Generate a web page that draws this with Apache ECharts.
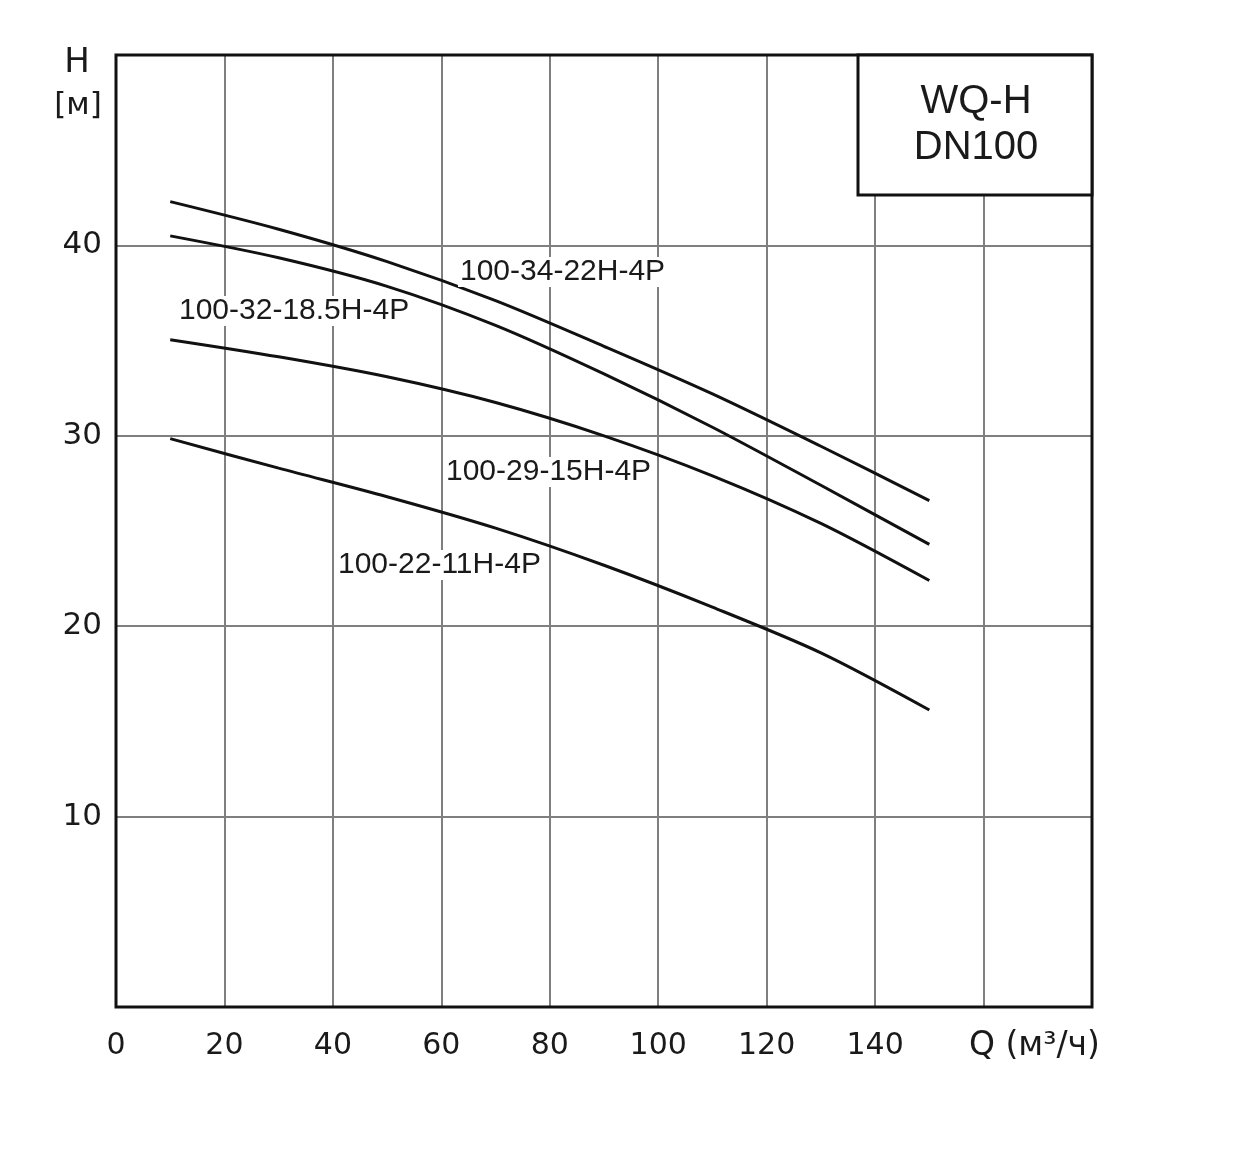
<!DOCTYPE html>
<html>
<head>
<meta charset="utf-8">
<script src="https://cdn.jsdelivr.net/npm/echarts@6/dist/echarts.min.js"></script>
<style>
  html, body { margin: 0; padding: 0; background: #fff; }
  #chart { width: 1240px; height: 1156px; }
</style>
</head>
<body>
<div id="chart"></div>
<script>
// pump curves WQ-H DN100, flow Q (m3/h) vs head H (m)
const flow = [10, 30, 50, 70, 90, 110, 130, 150];
const head34 = [42.3, 40.85, 39.15, 37.1, 34.7, 32.2, 29.45, 26.6];
const head32 = [40.5, 39.35, 37.85, 35.8, 33.25, 30.45, 27.4, 24.3];
const head29 = [35.05, 34.15, 33.1, 31.75, 30.0, 27.9, 25.4, 22.4];
const head22 = [29.85, 28.3, 26.8, 25.15, 23.2, 21.0, 18.6, 15.6];
const curveNames = ['100-34-22H-4P', '100-32-18.5H-4P', '100-29-15H-4P', '100-22-11H-4P'];
const xTicks = [0, 20, 40, 60, 80, 100, 120, 140];
const yTicks = [10, 20, 30, 40];

const lineColor = '#111'
const gridColor = '#7f7f7f'
const textColor = '#1a1a1a'
const tickFont = 'DejaVu Sans'
const curveFont = 'Liberation Sans'

function pairs(ys) {
    return flow.map((q, i) => [q, ys[i]])
}

function curve(name, ys) {
    return {
        name: name,
        type: 'line',
        data: pairs(ys),
        smooth: 0.3,
        symbol: 'none',
        lineStyle: { color: lineColor, width: 3 },
        z: 5
    }
}

function curveLabel(text, x, y) {
    return {
        type: 'text',
        x: x,
        y: y,
        z: 50,
        style: {
            text: text,
            font: '30px "' + curveFont + '"',
            fill: textColor,
            backgroundColor: '#fff',
            padding: [0, 2],
            verticalAlign: 'middle'
        }
    }
}

const chart = echarts.init(document.getElementById('chart'))
chart.setOption({
    animation: false,
    backgroundColor: '#fff',
    grid: {
        left: 116, top: 55, right: 148, bottom: 149,
        show: false,
        containLabel: false
    },
    xAxis: {
        type: 'value',
        min: 0,
        max: 180,
        interval: 20,
        axisLine: { show: false },
        axisTick: { show: false },
        axisLabel: {
            margin: 24,
            color: textColor,
            fontFamily: tickFont,
            fontSize: 30,
            formatter: v => xTicks.indexOf(v) >= 0 ? String(v) : ''
        },
        splitLine: { show: true, lineStyle: { color: gridColor, width: 2 } }
    },
    yAxis: {
        type: 'value',
        min: 0,
        max: 50,
        interval: 10,
        axisLine: { show: false },
        axisTick: { show: false },
        axisLabel: {
            margin: 14,
            color: textColor,
            fontFamily: tickFont,
            fontSize: 31,
            formatter: v => yTicks.indexOf(v) >= 0 ? String(v) : ''
        },
        splitLine: { show: true, lineStyle: { color: gridColor, width: 2 } }
    },
    series: [
        curve(curveNames[0], head34),
        curve(curveNames[1], head32),
        curve(curveNames[2], head29),
        curve(curveNames[3], head22)
    ],
    graphic: [
        curveLabel(curveNames[0], 458, 272),
        curveLabel(curveNames[1], 177, 311),
        curveLabel(curveNames[2], 444, 472),
        curveLabel(curveNames[3], 336, 565),
        // plot frame on top of the grid lines
        {
            type: 'rect',
            z: 55,
            shape: { x: 116, y: 55, width: 976, height: 952 },
            style: { fill: null, stroke: lineColor, lineWidth: 3 }
        },
        {
            type: 'rect',
            z: 60,
            shape: { x: 858, y: 55, width: 234, height: 140 },
            style: { fill: '#fff', stroke: lineColor, lineWidth: 3 }
        },
        {
            type: 'text', x: 976, y: 102, z: 61,
            style: { text: 'WQ-H', font: '40px "' + curveFont + '"', fill: textColor, align: 'center', verticalAlign: 'middle' }
        },
        {
            type: 'text', x: 976, y: 148, z: 61,
            style: { text: 'DN100', font: '40px "' + curveFont + '"', fill: textColor, align: 'center', verticalAlign: 'middle' }
        },
        {
            type: 'text', x: 77, y: 63, z: 61,
            style: { text: 'H', font: '34px "' + tickFont + '"', fill: textColor, align: 'center', verticalAlign: 'middle' }
        },
        {
            type: 'text', x: 78, y: 106, z: 61,
            style: { text: '[м]', font: '31px "' + tickFont + '"', fill: textColor, align: 'center', verticalAlign: 'middle' }
        },
        {
            type: 'text', x: 969, y: 1046, z: 61,
            style: { text: 'Q (м³/ч)', font: '33px "' + tickFont + '"', fill: textColor, align: 'left', verticalAlign: 'middle' }
        }
    ]
})
</script>
</body>
</html>
